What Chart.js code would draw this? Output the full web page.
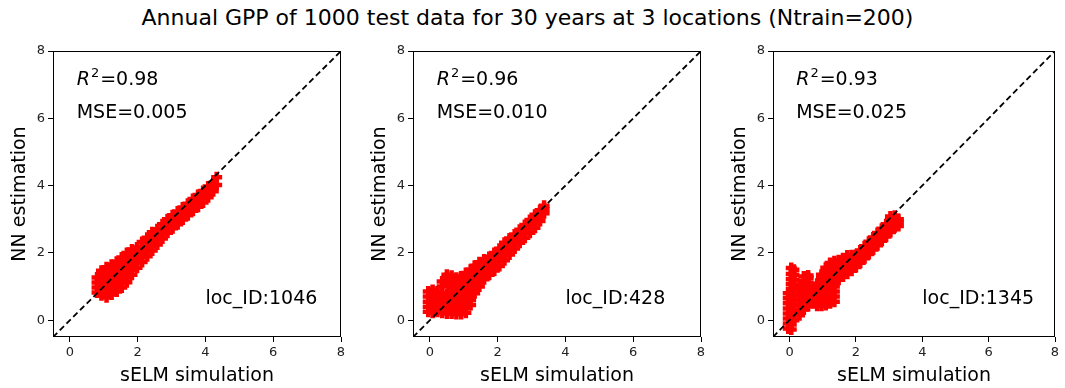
<!DOCTYPE html>
<html lang="en">
  <head>
    <meta charset="UTF-8" />
    <title>Annual GPP</title>
    <script src="https://cdn.jsdelivr.net/npm/chart.js@4.4.0/dist/chart.umd.min.js"></script>
    <style>
      html, body { margin: 0; padding: 0; background: #fff; overflow: hidden; }
      #page { position: relative; width: 1065px; height: 388px; font-family: 'DejaVu Sans', sans-serif; }
      #suptitle { position: absolute; left: 0; top: 5px; width: 1055px; text-align: center; font-size: 22px; color: #000; white-space: nowrap; }
      .panel { position: absolute; top: 40px; }
    </style>
  </head>
  <body>
    <div id="page">
      <div id="suptitle">Annual GPP of 1000 test data for 30 years at 3 locations (Ntrain=200)</div>
      <div class="panel" style="left: 0px"><canvas id="c1" width="352" height="348"></canvas></div>
      <div class="panel" style="left: 360px"><canvas id="c2" width="352" height="348"></canvas></div>
      <div class="panel" style="left: 720px"><canvas id="c3" width="345" height="348"></canvas></div>
    </div>

    <script>
      // valores: cada columna es [sELM, NN, NN, ...]
      const loc1046 = [
        [0.8, 0.82, 0.97, 1.12, 1.27],
        [0.93, 0.74, 0.89, 1.04, 1.19, 1.34, 1.47],
        [1.08, 0.68, 0.82, 0.97, 1.12, 1.27, 1.42, 1.57],
        [1.23, 0.76, 0.9, 1.05, 1.2, 1.35, 1.5, 1.65],
        [1.38, 0.85, 0.99, 1.14, 1.29, 1.44, 1.59, 1.74],
        [1.53, 0.97, 1.11, 1.26, 1.41, 1.56, 1.71, 1.86],
        [1.68, 1.13, 1.27, 1.42, 1.57, 1.72, 1.87, 2.0],
        [1.83, 1.35, 1.5, 1.65, 1.8, 1.95, 2.1],
        [1.98, 1.56, 1.71, 1.86, 2.01, 2.16],
        [2.13, 1.73, 1.88, 2.03, 2.18, 2.32],
        [2.28, 1.9, 2.04, 2.19, 2.34, 2.45],
        [2.43, 2.07, 2.21, 2.36, 2.5, 2.61],
        [2.58, 2.25, 2.4, 2.55, 2.7],
        [2.73, 2.43, 2.57, 2.71, 2.85],
        [2.88, 2.6, 2.74, 2.88, 3.0],
        [3.03, 2.73, 2.86, 3.0, 3.12],
        [3.18, 2.85, 2.98, 3.11, 3.23],
        [3.33, 2.99, 3.12, 3.25, 3.35],
        [3.48, 3.12, 3.24, 3.36, 3.46],
        [3.63, 3.25, 3.38, 3.5, 3.6],
        [3.78, 3.37, 3.5, 3.62, 3.72],
        [3.93, 3.5, 3.62, 3.74, 3.84],
        [4.08, 3.65, 3.78, 3.9, 3.97],
        [4.23, 3.83, 3.96, 4.08],
        [4.33, 4.02, 4.25]
      ];

      const loc428 = [
        [-0.05, 0.25, 0.4, 0.55, 0.7, 0.85],
        [0.08, 0.22, 0.37, 0.52, 0.67, 0.82, 0.9],
        [0.22, 0.25, 0.4, 0.55, 0.7, 0.85],
        [0.36, 0.22, 0.36, 0.5, 0.65, 0.8, 1.0, 1.15],
        [0.5, 0.2, 0.35, 0.5, 0.65, 0.76, 1.12, 1.27, 1.35],
        [0.64, 0.2, 0.34, 0.48, 0.62, 0.76, 0.9, 1.04, 1.18, 1.32],
        [0.78, 0.18, 0.32, 0.46, 0.6, 0.74, 0.88, 1.02, 1.16, 1.26],
        [0.92, 0.18, 0.32, 0.46, 0.6, 0.74, 0.88, 1.02, 1.16, 1.3],
        [1.06, 0.22, 0.36, 0.5, 0.65, 0.8, 0.95, 1.1, 1.25, 1.4],
        [1.2, 0.45, 0.6, 0.75, 0.9, 1.05, 1.2, 1.35, 1.5],
        [1.32, 0.8, 0.92, 1.07, 1.22, 1.37, 1.52, 1.62],
        [1.46, 1.0, 1.15, 1.3, 1.45, 1.6, 1.72],
        [1.6, 1.22, 1.37, 1.52, 1.66, 1.8],
        [1.75, 1.35, 1.5, 1.64, 1.78, 1.88],
        [1.9, 1.48, 1.62, 1.76, 1.9, 2.0],
        [2.05, 1.61, 1.75, 1.89, 2.03, 2.12],
        [2.2, 1.78, 1.92, 2.06, 2.2, 2.3],
        [2.35, 1.95, 2.09, 2.23, 2.37, 2.43],
        [2.5, 2.13, 2.27, 2.41, 2.55],
        [2.65, 2.3, 2.43, 2.56, 2.69],
        [2.8, 2.45, 2.58, 2.71, 2.83],
        [2.95, 2.6, 2.73, 2.86, 2.98],
        [3.1, 2.75, 2.88, 3.01, 3.13],
        [3.25, 2.95, 3.08, 3.2, 3.27],
        [3.37, 3.18, 3.3, 3.4]
      ];

      const loc1345 = [
        [-0.04, -0.25, -0.1, 0.05, 0.2, 0.35, 0.5, 0.65, 0.8],
        [0.05, -0.28, -0.13, 0.02, 0.17, 0.32, 0.47, 0.62, 0.77, 0.92, 1.07, 1.22, 1.37, 1.55],
        [0.13, 0.0, 0.15, 0.3, 0.45, 0.6, 0.75, 0.9, 1.05, 1.2, 1.35, 1.5],
        [0.3, 0.15, 0.3, 0.45, 0.6, 0.75, 0.9, 1.0],
        [0.43, 0.32, 0.46, 0.6, 0.74, 0.88, 1.02, 1.16, 1.3],
        [0.56, 0.42, 0.56, 0.7, 0.84, 0.98, 1.12, 1.26, 1.33],
        [0.7, 0.5, 0.64, 0.78, 0.9],
        [0.83, 0.43, 0.57, 0.71, 0.85, 0.99, 1.08],
        [0.96, 0.43, 0.57, 0.71, 0.85, 0.99, 1.13, 1.27, 1.35],
        [1.09, 0.45, 0.59, 0.73, 0.87, 1.01, 1.15, 1.29, 1.43, 1.56],
        [1.22, 0.5, 0.64, 0.78, 0.92, 1.06, 1.2, 1.34, 1.48, 1.62, 1.7],
        [1.35, 0.55, 0.7, 0.85, 1.0, 1.15, 1.3, 1.45, 1.6, 1.75],
        [1.48, 1.2, 1.35, 1.5, 1.65, 1.78],
        [1.61, 1.3, 1.44, 1.58, 1.72, 1.84],
        [1.74, 1.38, 1.52, 1.66, 1.8, 1.92],
        [1.87, 1.47, 1.59, 1.71, 1.83, 1.93],
        [2.0, 1.58, 1.7, 1.82, 1.94],
        [2.13, 1.71, 1.83, 1.95, 2.07],
        [2.26, 1.84, 1.96, 2.08, 2.2],
        [2.39, 1.97, 2.09, 2.21, 2.33],
        [2.52, 2.1, 2.22, 2.34, 2.46],
        [2.65, 2.23, 2.35, 2.47, 2.59],
        [2.78, 2.36, 2.48, 2.6, 2.72],
        [2.91, 2.49, 2.61, 2.73, 2.85],
        [3.04, 2.62, 2.74, 2.86, 2.98, 3.08],
        [3.17, 2.76, 2.88, 3.0, 3.1],
        [3.28, 2.8, 2.92, 3.0]
      ];

      const r2Values = ['0.98', '0.96', '0.93'];
      const mseValues = ['0.005', '0.010', '0.025'];
      const locIds = ['1046', '428', '1345'];
      const tickVals = [0, 2, 4, 6, 8];
      const axisRange = [-0.5, 8];

      Chart.defaults.font.family = "'DejaVu Sans', sans-serif";
      Chart.defaults.color = '#000';

      // marco del eje y textos R2 / MSE / loc_ID
      const notesPlugin = {
        id: 'notes',
        afterDatasetsDraw(chart, args, opts) {
          const { ctx, chartArea: a } = chart;
          const x = chart.scales.x, y = chart.scales.y;
          ctx.save();
          ctx.strokeStyle = '#000';
          ctx.lineWidth = 1;
          ctx.strokeRect(a.left + 0.5, a.top + 0.5, a.width - 1, a.height - 1);
          ctx.fillStyle = '#000';
          ctx.textBaseline = 'alphabetic';
          let px = x.getPixelForValue(0.2);
          const py = y.getPixelForValue(7);
          ctx.font = "italic 19px 'DejaVu Sans'";
          ctx.fillText('R', px, py);
          px += ctx.measureText('R').width + 1;
          ctx.font = "13px 'DejaVu Sans'";
          ctx.fillText('2', px, py - 8);
          px += ctx.measureText('2').width + 1;
          ctx.font = "19px 'DejaVu Sans'";
          ctx.fillText('=' + opts.r2, px, py);
          ctx.fillText('MSE=' + opts.mse, x.getPixelForValue(0.2), y.getPixelForValue(6));
          ctx.fillText('loc_ID:' + opts.loc, x.getPixelForValue(4), y.getPixelForValue(0.48));
          ctx.restore();
        }
      };

      const makeAxis = (title, isY) => ({
        type: 'linear',
        min: axisRange[0],
        max: axisRange[1],
        afterBuildTicks: (s) => { s.ticks = tickVals.map((v) => ({ value: v })); },
        afterFit: (s) => { if (isY) s.width = 53; else s.height = 51; },
        grid: { drawOnChartArea: false, drawTicks: true, tickLength: 5, color: '#000', lineWidth: 1 },
        border: { display: false },
        ticks: { color: '#222', font: { size: 13 }, padding: 3, maxRotation: 0, autoSkip: false },
        title: {
          display: true,
          text: title,
          color: '#000',
          font: { size: 19 },
          padding: isY ? { top: 9, bottom: 0 } : { top: 0, bottom: 1 }
        }
      });

      const makeChart = (id, cols, i, padRight) => {
        const points = cols.flatMap(([sim, ...ests]) => ests.map((est) => ({ x: sim, y: est })));
        return new Chart(document.getElementById(id), {
          type: 'scatter',
          data: {
            datasets: [
              {
                data: axisRange.map((v) => ({ x: v, y: v })),
                showLine: true,
                borderColor: '#000',
                borderWidth: 1.8,
                borderDash: [6, 3.5],
                pointRadius: 0,
                order: 0
              },
              {
                data: points,
                pointStyle: 'cross',
                pointRadius: 5.5,
                borderColor: '#ff0000',
                backgroundColor: '#ff0000',
                pointBorderWidth: 4.5,
                order: 1
              }
            ]
          },
          options: {
            responsive: false,
            animation: false,
            devicePixelRatio: 1,
            events: [],
            layout: { padding: { top: 11, right: padRight, left: 0, bottom: 0 } },
            plugins: {
              legend: { display: false },
              tooltip: { enabled: false },
              notes: { r2: r2Values[i], mse: mseValues[i], loc: locIds[i] }
            },
            scales: {
              x: makeAxis('sELM simulation', false),
              y: makeAxis('NN estimation', true)
            }
          },
          plugins: [notesPlugin]
        });
      };

      makeChart('c1', loc1046, 0, 11);
      makeChart('c2', loc428, 1, 11);
      makeChart('c3', loc1345, 2, 4);
    </script>
  </body>
</html>
